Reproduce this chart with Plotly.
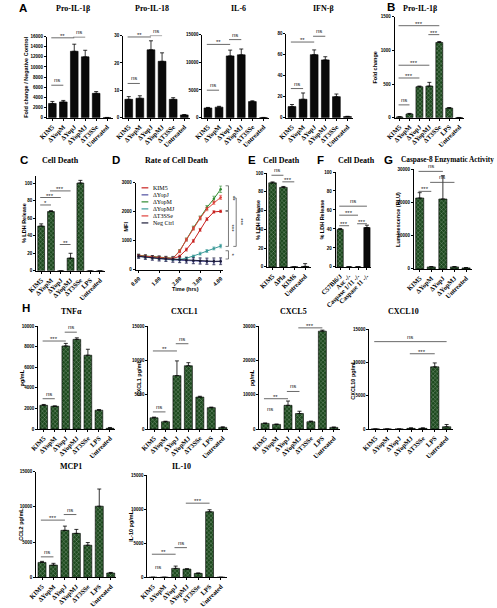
import plotly.graph_objects as go

W, H = 497, 608

# ---------------- categories ----------------
cats_A = ["KIM5", "ΔYopM", "ΔYopJ", "ΔYopMJ", "ΔT3SSe", "Untreated"]
cats_B = ["KIM5", "ΔYopM", "ΔYopJ", "ΔYopMJ", "ΔT3SSe", "LPS", "Untreated"]
cats_E = ["KIM5", "ΔPla", "KIM6", "Untreated"]
cats_F = ["C57Bl6/J", "Asc -/-", "Caspase 1/11 -/-", "Caspase 11 -/-"]
cats_G = ["KIM5", "ΔYopM", "ΔYopJ", "ΔYopMJ", "Untreated"]

# ---------------- panel A (fold change / negative control) ----------------
pro_il1b_A = [2800, 3100, 13100, 12000, 4800, 30]
pro_il1b_A_err = [400, 300, 1400, 1300, 350, 10]
pro_il18 = [6.7, 7.1, 24.8, 20.6, 6.7, 1.0]
pro_il18_err = [1.0, 0.9, 3.3, 3.1, 0.6, 0.1]
il6 = [1750, 1900, 11150, 11350, 2900, 30]
il6_err = [100, 150, 1050, 1050, 150, 10]
ifnb = [10.5, 17.5, 60, 55, 20, 1.0]
ifnb_err = [2, 6, 4.5, 3, 2.5, 0.3]

# ---------------- panel B ----------------
pro_il1b_B = [10, 55, 460, 470, 1118, 142, 2]
pro_il1b_B_err = [5, 8, 10, 55, 15, 8, 1]

# ---------------- panel C ----------------
ldh_C = [51, 67.5, 0, 14.5, 100, 0, 0]
ldh_C_err = [2.5, 1.0, 0, 5.5, 3, 0, 0]

# ---------------- panel D (MFI over time) ----------------
time_h = [0.00, 0.33, 0.67, 1.00, 1.33, 1.67, 2.00, 2.33, 2.67, 3.00, 3.33, 3.67, 4.00]
mfi_kim5 = [480, 460, 440, 420, 400, 390, 470, 700, 1000, 1380, 1750, 2000, 2020]
mfi_yopj = [460, 430, 405, 385, 365, 345, 330, 315, 305, 295, 290, 285, 290]
mfi_yopm = [500, 475, 450, 430, 410, 400, 650, 1050, 1450, 1800, 2150, 2450, 2780]
mfi_yopmj = [470, 440, 420, 400, 380, 365, 360, 400, 470, 560, 650, 740, 820]
mfi_t3sse = [490, 465, 445, 425, 405, 395, 640, 1040, 1430, 1780, 2100, 2320, 2500]
mfi_neg = [470, 440, 415, 395, 380, 365, 350, 335, 320, 310, 300, 295, 300]
mfi_kim5_err = [40, 40, 40, 40, 40, 40, 40, 50, 50, 50, 50, 40, 40]
mfi_yopj_err = [60, 60, 70, 70, 70, 80, 80, 80, 80, 90, 90, 90, 90]
mfi_yopm_err = [40, 40, 40, 40, 40, 40, 50, 50, 60, 60, 70, 90, 110]
mfi_yopmj_err = [40, 40, 40, 40, 40, 40, 40, 40, 40, 50, 50, 50, 60]
mfi_t3sse_err = [40, 40, 40, 40, 40, 40, 50, 50, 60, 60, 60, 60, 70]
mfi_neg_err = [70, 80, 80, 90, 90, 100, 100, 100, 110, 110, 110, 120, 120]

# ---------------- panel E, F, G ----------------
ldh_E = [89.5, 84.7, 0, 0.5]
ldh_E_err = [1.0, 1.0, 0, 3.0]
ldh_F = [39.5, 0, 0, 41.5]
ldh_F_err = [1.0, 0, 0, 2.5]
lum_G = [21300, 600, 21000, 600, 300]
lum_G_err = [1600, 100, 7000, 100, 100]

# ---------------- panel H (pg/mL) ----------------
tnfa = [2310, 2210, 8080, 8720, 7180, 1830, 70]
tnfa_err = [80, 40, 250, 150, 580, 60, 80]
cxcl1 = [1640, 1060, 7790, 9230, 4660, 3120, 240]
cxcl1_err = [100, 80, 2150, 450, 120, 80, 80]
cxcl5 = [1640, 1350, 6920, 4520, 2120, 28560, 480]
cxcl5_err = [120, 100, 1250, 670, 200, 300, 100]
cxcl10 = [0, 0, 0, 100, 100, 9340, 340]
cxcl10_err = [0, 0, 0, 80, 80, 590, 340]
mcp1 = [2110, 1730, 6660, 6230, 4550, 10080, 610]
mcp1_err = [150, 250, 600, 560, 380, 2440, 80]
il10 = [0, 0, 1310, 1210, 580, 9660, 0]
il10_err = [0, 0, 340, 50, 60, 290, 0]

# ---------------- styling ----------------
SERIF = "Liberation Serif"
SANS = "Liberation Sans"
GREEN = "#1d4a1e"
HATCH = "#6e9c60"
BLACK = "#0a0a0a"

fig = go.Figure()
_count = [0]


def make_axes(x0, x1, ytop, ybot, yrange, dtick, cats=None, xrange=None):
    _count[0] += 1
    k = _count[0]
    s = "" if k == 1 else str(k)
    xa = dict(domain=[x0 / W, x1 / W], anchor="y" + s, showline=True, linecolor="black",
              linewidth=1, ticks="outside", ticklen=2, tickwidth=0.8, tickcolor="black",
              showgrid=False, zeroline=False, tickangle=-45,
              tickfont=dict(family=SERIF, size=6.6, color="black", weight="bold"))
    if cats is not None:
        xa.update(type="category", categoryorder="array", categoryarray=cats,
                  range=[-0.5, len(cats) - 0.5])
    else:
        xa.update(range=xrange)
    ya = dict(domain=[1 - ybot / H, 1 - ytop / H], anchor="x" + s, range=yrange, dtick=dtick,
              tickformat="d", showline=True, linecolor="black", linewidth=1, ticks="outside",
              ticklen=2, tickwidth=0.8, tickcolor="black", showgrid=False, zeroline=False,
              tickfont=dict(family=SANS, size=4.5, color="black", weight="bold"))
    fig.update_layout(**{"xaxis" + s: xa, "yaxis" + s: ya})
    return "x" + s, "y" + s


def add_bars(xr, yr, cats, vals, errs, colors=GREEN, hatch=True):
    n = len(cats)
    if isinstance(colors, str):
        colors = [colors] * n
    shapes = ["x" if (hatch and c == GREEN) else "" for c in colors]
    fig.add_trace(go.Bar(
        x=cats, y=vals, xaxis=xr, yaxis=yr, width=0.7, showlegend=False,
        marker=dict(color=colors, line=dict(color="black", width=0.6),
                    pattern=dict(shape=shapes, fgcolor=HATCH, size=3, solidity=0.25,
                                 fillmode="overlay")),
        error_y=dict(type="data", array=errs, arrayminus=[0] * n, symmetric=False,
                     color="black", thickness=0.8, width=2)))


def sig(xr, yr, i, j, y, label, line=True):
    if line:
        fig.add_shape(type="line", xref=xr, yref=yr, x0=i - 0.1, x1=j, y0=y, y1=y,
                      line=dict(color="#444", width=0.8))
    fig.add_annotation(xref=xr, yref=yr, x=(i - 0.1 + j) / 2, y=y, text=label, showarrow=False,
                       yanchor="bottom", yshift=(-3 if "*" in label else 0),
                       font=dict(family=SANS, size=6, color="#222"))


def text(px, py, s, size=8, family=SERIF, angle=0, bold=True):
    fig.add_annotation(xref="paper", yref="paper", x=px / W, y=1 - py / H,
                       text=("<b>%s</b>" % s) if bold else s, showarrow=False,
                       xanchor="center", yanchor="middle", textangle=angle,
                       font=dict(family=family, size=size, color="black"))


# ---------------- A ----------------
x, y = make_axes(32, 100, 35, 117, [0, 16000], 2000, cats=cats_A)
add_bars(x, y, cats_A, pro_il1b_A, pro_il1b_A_err, colors=BLACK, hatch=False)
sig(x, y, 0, 2, 16000 * 0.985, "**"); sig(x, y, 2, 3, 16000 * 0.995, "ns"); sig(x, y, 0, 1, 6400, "ns")

x, y = make_axes(111, 180, 34, 117, [0, 30], 10, cats=cats_A)
add_bars(x, y, cats_A, pro_il18, pro_il18_err, colors=BLACK, hatch=False)
sig(x, y, 0, 2, 29.5, "**"); sig(x, y, 2, 3, 30.0, "ns"); sig(x, y, 0, 1, 12.5, "ns")

x, y = make_axes(193, 262, 33, 117, [0, 15000], 5000, cats=cats_A)
add_bars(x, y, cats_A, il6, il6_err, colors=BLACK, hatch=False)
sig(x, y, 0, 2, 13230, "**"); sig(x, y, 2, 3, 14100, "ns"); sig(x, y, 0, 1, 4960, "ns")

x, y = make_axes(280, 349, 32, 117, [0, 80], 20, cats=cats_A)
add_bars(x, y, cats_A, ifnb, ifnb_err, colors=BLACK, hatch=False)
sig(x, y, 0, 2, 72, "**"); sig(x, y, 2, 3, 77.5, "ns"); sig(x, y, 0, 1, 27.7, "ns")

# ---------------- B ----------------
x, y = make_axes(392, 464, 15, 117, [0, 1500], 500, cats=cats_B)
add_bars(x, y, cats_B, pro_il1b_B, pro_il1b_B_err)
sig(x, y, 0, 4, 1368, "***"); sig(x, y, 3, 4, 1235, "***"); sig(x, y, 0, 3, 780, "***")
sig(x, y, 0, 2, 590, "***"); sig(x, y, 0, 1, 190, "ns")

# ---------------- C ----------------
x, y = make_axes(21, 92, 176, 272, [0, 108], 20, cats=cats_B)
add_bars(x, y, cats_B, ldh_C, ldh_C_err)
sig(x, y, 3, 4, 112, "***"); sig(x, y, 1, 3, 91, "***"); sig(x, y, 0, 2, 83.5, "***")
sig(x, y, 0, 1, 75, "*"); sig(x, y, 2, 3, 30, "**")

# ---------------- D ----------------
xD, yD = make_axes(124, 214, 183, 271, [0, 3000], 1000, xrange=[-0.14, 4.1])
fig.update_layout(xaxis7=dict(tickformat=".2f", dtick=1, tick0=0,
                              tickfont=dict(family=SERIF, size=6)))
d_series = [
    ("KIM5", mfi_kim5, mfi_kim5_err, "#c8201e"),
    ("ΔYopJ", mfi_yopj, mfi_yopj_err, "#4f4fa0"),
    ("ΔYopM", mfi_yopm, mfi_yopm_err, "#2f8a2f"),
    ("ΔYopMJ", mfi_yopmj, mfi_yopmj_err, "#3a9a98"),
    ("ΔT3SSe", mfi_t3sse, mfi_t3sse_err, "#e0403a"),
    ("Neg Ctrl", mfi_neg, mfi_neg_err, "#1c1c38"),
]
for name, vals, errs, col in d_series:
    fig.add_trace(go.Scatter(x=time_h, y=vals, xaxis=xD, yaxis=yD, mode="lines+markers",
                             name=name, showlegend=False, line=dict(color=col, width=1),
                             marker=dict(size=2.5, color=col),
                             error_y=dict(type="data", array=errs, color=col, thickness=0.6,
                                          width=1.5)))
# manual legend
for k, (name, vals, errs, col) in enumerate(d_series):
    py = 188 + k * 7.1
    fig.add_shape(type="line", xref="paper", yref="paper", x0=130 / W, x1=137 / W,
                  y0=1 - py / H, y1=1 - py / H, line=dict(color=col, width=1.2))
    fig.add_annotation(xref="paper", yref="paper", x=140 / W, y=1 - py / H, text=name,
                       showarrow=False, xanchor="left", yanchor="middle",
                       font=dict(family=SERIF, size=6, color="black"))


def bracket(xpx, y0, y1, label, lx):
    a = (xpx - 3) / W
    b = xpx / W
    fig.add_shape(type="path", xref="paper", yref=yD,
                  path="M %f,%f L %f,%f L %f,%f L %f,%f" % (a, y0, b, y0, b, y1, a, y1),
                  line=dict(color="#444", width=0.7))
    fig.add_annotation(xref="paper", yref=yD, x=lx / W, y=(y0 + y1) / 2, text=label,
                       textangle=90, showarrow=False, xanchor="center", yanchor="middle",
                       font=dict(family=SANS, size=6, color="#222"))


bracket(220, 2900, 2045, "**", 224)
bracket(220, 2020, 810, "***", 224)
bracket(228, 2480, 810, "***", 233)
bracket(220, 660, 375, "*", 224)

# ---------------- E ----------------
x, y = make_axes(260, 305, 173, 268, [0, 100], 20, cats=cats_E)
add_bars(x, y, cats_E, ldh_E, ldh_E_err)
sig(x, y, 0, 1, 97.6, "ns"); sig(x, y, 1, 2, 90.6, "***")

# ---------------- F ----------------
x, y = make_axes(331, 368, 172, 268, [0, 100], 20, cats=cats_F)
add_bars(x, y, cats_F, ldh_F, ldh_F_err, colors=[GREEN, GREEN, GREEN, BLACK])
sig(x, y, 0, 3, 64, "ns"); sig(x, y, 0, 2, 54.5, "***"); sig(x, y, 0, 1, 43.4, "***")
sig(x, y, 2, 3, 45.5, "***")

# ---------------- G ----------------
x, y = make_axes(412, 472, 169, 270, [0, 30000], 10000, cats=cats_G)
add_bars(x, y, cats_G, lum_G, lum_G_err)
sig(x, y, 0, 2, 29300, "ns"); sig(x, y, 1, 3, 26000, "ns"); sig(x, y, 0, 1, 23300, "***")

# ---------------- H ----------------
x, y = make_axes(23, 103, 328, 432, [0, 10000], 2000, cats=cats_B)
add_bars(x, y, cats_B, tnfa, tnfa_err)
sig(x, y, 0, 2, 8560, "***"); sig(x, y, 2, 3, 9420, "ns"); sig(x, y, 0, 1, 2950, "ns")

x, y = make_axes(137, 220, 328, 432, [0, 15000], 5000, cats=cats_B)
add_bars(x, y, cats_B, cxcl1, cxcl1_err)
sig(x, y, 0, 2, 11390, "**"); sig(x, y, 2, 3, 12450, "ns"); sig(x, y, 0, 1, 2500, "ns")

x, y = make_axes(252, 335, 328, 432, [0, 30000], 10000, cats=cats_B)
add_bars(x, y, cats_B, cxcl5, cxcl5_err)
sig(x, y, 3, 5, 29520, "***"); sig(x, y, 0, 2, 8850, "**"); sig(x, y, 2, 3, 10960, "ns")
sig(x, y, 0, 1, 4300, "ns", line=False)

x, y = make_axes(366, 452, 331, 432, [0, 15000], 5000, cats=cats_B)
add_bars(x, y, cats_B, cxcl10, cxcl10_err)
sig(x, y, 0, 6, 13130, "ns"); sig(x, y, 3, 5, 11310, "***")

x, y = make_axes(21, 104, 475, 582, [0, 15000], 5000, cats=cats_B)
add_bars(x, y, cats_B, mcp1, mcp1_err)
sig(x, y, 0, 2, 8110, "***"); sig(x, y, 2, 3, 8900, "ns"); sig(x, y, 0, 1, 2900, "ns")

x, y = make_axes(136, 218, 479, 582, [0, 15000], 5000, cats=cats_B)
add_bars(x, y, cats_B, il10, il10_err)
sig(x, y, 3, 5, 10920, "***"); sig(x, y, 0, 2, 3400, "**"); sig(x, y, 2, 3, 4370, "ns")
sig(x, y, 0, 1, 800, "ns", line=False)

# ---------------- panel letters ----------------
for L, px, py in [("A", 7, 6), ("B", 388, 5.5), ("C", 8, 160), ("D", 104, 160), ("E", 244, 160),
                  ("F", 315, 160), ("G", 386, 160), ("H", 10, 310)]:
    text(px, py, L, size=11.5, family=SANS)

# ---------------- titles ----------------
for t, px, py, fs in [("Pro-IL-1β", 59, 7, 8), ("Pro-IL-18", 141, 7, 8), ("IL-6", 230, 7, 8),
                      ("IFN-β", 318, 7, 8), ("Pro-IL-1β", 418, 7, 8), ("Cell Death", 46, 160, 8),
                      ("Rate of Cell Death", 166, 160, 8), ("Cell Death", 275, 160, 8),
                      ("Cell Death", 353, 160, 8),
                      ("Caspase-8 Enzymatic Activity", 447, 159.5, 7.3),
                      ("TNFα", 57, 313, 8), ("CXCL1", 174, 313, 8), ("CXCL5", 287, 313, 8),
                      ("CXCL10", 401, 313, 8), ("MCP1", 57, 470, 8), ("IL-10", 171, 470, 8)]:
    text(px, py, t, size=fs)

# ---------------- axis titles ----------------
for t, px, py in [("Fold change / Negative Control", 11, 76), ("Fold change", 372, 66),
                  ("% LDH Release", 9, 224), ("MFI", 114, 227), ("% LDH Release", 251, 220),
                  ("% LDH Release", 317, 220), ("Luminescence (RLU)", 396, 220),
                  ("pg/mL", 6, 380), ("CXCL1 pg/mL", 127, 380), ("pg/mL", 244, 380),
                  ("CXCL10 pg/mL", 349, 382), ("CCL2 pg/mL", 5, 528), ("IL-10 pg/mL", 119, 530)]:
    text(px, py, t, size=5.5, family=SANS, angle=-90)
text(175, 290, "Time (hrs)", size=5.5, family=SANS)

fig.update_layout(width=W, height=H, margin=dict(l=0, r=0, t=0, b=0),
                  paper_bgcolor="white", plot_bgcolor="white", bargap=0.3, showlegend=False)

fig.write_html("out.html", config={"displayModeBar": False},
               post_script="document.body.style.margin='0px';document.body.style.overflow='hidden';")
